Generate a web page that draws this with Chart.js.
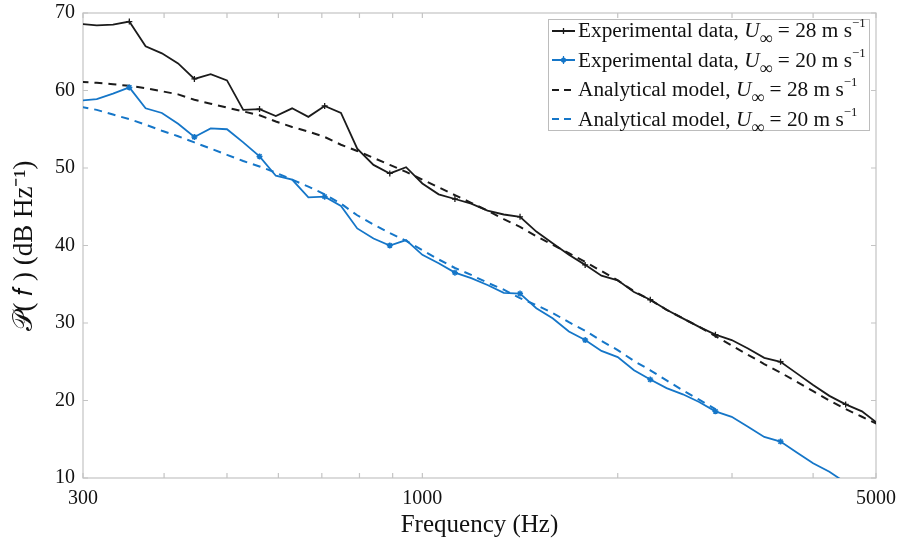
<!DOCTYPE html>
<html>
<head>
<meta charset="utf-8">
<script src="https://cdn.jsdelivr.net/npm/chart.js@4.4.1/dist/chart.umd.min.js"></script>
<style>
html,body{margin:0;padding:0;background:#fff;}
#wrap{position:relative;width:898px;height:542px;}
#c{position:absolute;left:0;top:0;}
#legend{position:absolute;left:548px;top:19px;height:112px;padding:0 3px 0 2px;border:1px solid #bcbcbc;background:#fff;box-sizing:border-box;font-family:"Liberation Serif","Times New Roman",serif;font-size:21.3px;color:#111;white-space:nowrap;}
#legend .rows{position:relative;top:-4px;}
#legend .row{height:29.5px;line-height:29.5px;display:flex;align-items:center;}
#legend svg{flex:none;margin-right:2px;}
#legend sub{font-size:0.85em;line-height:0;position:relative;top:0.05em;vertical-align:-0.35em;}
#legend sup{font-size:0.6em;line-height:0;vertical-align:0.75em;}
</style>
</head>
<body>
<div id="wrap">
<canvas id="c" width="898" height="542"></canvas>
<div id="legend"><div class="rows">
 <div class="row"><svg width="25" height="12"><line x1="1" y1="6" x2="24" y2="6" stroke="#1b1b1b" stroke-width="2"/><line x1="12.5" y1="3" x2="12.5" y2="9" stroke="#1b1b1b" stroke-width="1.3"/></svg><span>Experimental data, <i>U</i><sub>∞</sub> = 28 m s<sup>−1</sup></span></div>
 <div class="row"><svg width="25" height="12"><line x1="1" y1="6" x2="24" y2="6" stroke="#1576c8" stroke-width="2"/><circle cx="12.5" cy="6" r="2.6" fill="#1576c8"/><line x1="12.5" y1="2" x2="12.5" y2="10" stroke="#1576c8" stroke-width="1.2"/></svg><span>Experimental data, <i>U</i><sub>∞</sub> = 20 m s<sup>−1</sup></span></div>
 <div class="row"><svg width="25" height="12"><line x1="1" y1="6" x2="24" y2="6" stroke="#1b1b1b" stroke-width="2" stroke-dasharray="7 5"/></svg><span>Analytical model, <i>U</i><sub>∞</sub> = 28 m s<sup>−1</sup></span></div>
 <div class="row"><svg width="25" height="12"><line x1="1" y1="6" x2="24" y2="6" stroke="#1576c8" stroke-width="2" stroke-dasharray="7 5"/></svg><span>Analytical model, <i>U</i><sub>∞</sub> = 20 m s<sup>−1</sup></span></div>
</div></div>
</div>
<script>
// 1/12-octave band frequencies (Hz)
const frequencies = [297.3, 315.0, 333.7, 353.6, 374.6, 396.9, 420.4, 445.4, 471.9, 500.0,
  529.7, 561.2, 594.6, 630.0, 667.4, 707.1, 749.2, 793.7, 840.9, 890.9,
  943.9, 1000.0, 1059.5, 1122.5, 1189.2, 1259.9, 1334.8, 1414.2, 1498.3, 1587.4,
  1681.8, 1781.8, 1887.7, 2000.0, 2118.9, 2244.9, 2378.4, 2519.8, 2669.6, 2828.4,
  2996.6, 3174.8, 3363.6, 3563.6, 3775.5, 4000.0, 4237.9, 4489.8, 4756.8, 5039.7];

const exp28 = [68.6, 68.4, 68.5, 68.9, 65.7, 64.8, 63.5, 61.5, 62.1, 61.3,
  57.5, 57.6, 56.7, 57.7, 56.6, 58.0, 57.1, 52.5, 50.4, 49.3,
  50.1, 48.0, 46.6, 46.0, 45.4, 44.5, 44.0, 43.7, 41.8, 40.3,
  38.8, 37.5, 36.1, 35.5, 34.0, 33.0, 31.7, 30.6, 29.5, 28.5,
  27.8, 26.7, 25.5, 25.0, 23.5, 22.0, 20.6, 19.5, 18.6, 17.0];

const exp20 = [58.7, 58.9, 59.6, 60.4, 57.7, 57.1, 55.7, 54.0, 55.1, 55.0,
  53.3, 51.5, 49.0, 48.5, 46.2, 46.3, 45.1, 42.2, 40.9, 40.0,
  40.7, 38.8, 37.7, 36.5, 35.8, 34.9, 33.9, 33.8, 31.9, 30.6,
  28.9, 27.8, 26.4, 25.6, 23.9, 22.7, 21.6, 20.8, 19.8, 18.6,
  17.9, 16.6, 15.3, 14.7, 13.3, 11.9, 10.8, 9.4, null, null];

const model28 = [61.1, 61.0, 60.8, 60.6, 60.3, 59.9, 59.5, 58.8, 58.3, 57.8,
  57.3, 56.8, 56.0, 55.3, 54.7, 54.0, 53.0, 52.2, 51.3, 50.4,
  49.5, 48.5, 47.5, 46.5, 45.5, 44.5, 43.4, 42.4, 41.2, 40.1,
  39.0, 37.9, 36.7, 35.5, 34.1, 33.0, 31.7, 30.6, 29.5, 28.3,
  27.1, 25.9, 24.7, 23.6, 22.4, 21.2, 20.0, 18.9, 17.9, 16.9];

const model20 = [57.9, 57.5, 56.9, 56.3, 55.6, 54.8, 54.1, 53.3, 52.5, 51.7,
  50.9, 50.2, 49.4, 48.5, 47.6, 46.6, 45.4, 43.9, 42.7, 41.6,
  40.6, 39.4, 38.2, 37.1, 36.2, 35.2, 34.3, 33.2, 32.3, 31.3,
  30.1, 29.0, 27.7, 26.5, 25.1, 23.9, 22.6, 21.3, 20.1, 18.9,
  null, null, null, null, null, null, null, null, null, null];

const xTickValues = [300, 400, 500, 600, 700, 800, 900, 1000, 2000, 3000, 4000, 5000];
const xLabelValues = [300, 1000, 5000];
const yTickValues = [10, 20, 30, 40, 50, 60, 70];

const BLACK = '#1b1b1b';
const BLUE = '#1576c8';
const AXIS = '#c4c4c4';
const FONT = '"Liberation Serif", "Times New Roman", serif';

const toXY = arr => frequencies.map((f, i) => ({x: f, y: arr[i]}));
const markerEvery4 = ctx => (ctx.dataIndex % 4 === 3 ? 3 : 0);

const frame = {
  id: 'frame',
  beforeDatasetsDraw(chart) {
    const {ctx, chartArea: a, scales: {x, y}} = chart;
    ctx.save();
    ctx.strokeStyle = AXIS;
    ctx.lineWidth = 1.2;
    ctx.strokeRect(a.left, a.top, a.right - a.left, a.bottom - a.top);
    ctx.beginPath();
    xTickValues.forEach(v => {
      const p = x.getPixelForValue(v);
      ctx.moveTo(p, a.bottom); ctx.lineTo(p, a.bottom - 5);
      ctx.moveTo(p, a.top); ctx.lineTo(p, a.top + 5);
    });
    yTickValues.forEach(v => {
      const p = y.getPixelForValue(v);
      ctx.moveTo(a.left, p); ctx.lineTo(a.left + 5, p);
      ctx.moveTo(a.right, p); ctx.lineTo(a.right - 5, p);
    });
    ctx.stroke();
    ctx.restore();
  }
};

new Chart(document.getElementById('c'), {
  type: 'line',
  data: {
    datasets: [
      {label: 'Experimental data, U∞ = 28 m s⁻¹', data: toXY(exp28), borderColor: BLACK, backgroundColor: BLACK,
        borderWidth: 1.8, pointStyle: 'cross', pointRadius: markerEvery4, pointBorderWidth: 1.3, order: 1},
      {label: 'Experimental data, U∞ = 20 m s⁻¹', data: toXY(exp20), borderColor: BLUE, backgroundColor: BLUE,
        borderWidth: 1.8, pointStyle: 'star', pointRadius: markerEvery4, pointBorderWidth: 1.5, order: 2},
      {label: 'Analytical model, U∞ = 28 m s⁻¹', data: toXY(model28), borderColor: BLACK,
        borderWidth: 2, borderDash: [8, 6], pointRadius: 0, order: 3},
      {label: 'Analytical model, U∞ = 20 m s⁻¹', data: toXY(model20), borderColor: BLUE,
        borderWidth: 2, borderDash: [8, 6], pointRadius: 0, order: 4}
    ]
  },
  options: {
    responsive: false,
    animation: false,
    layout: {padding: {left: 0, right: 22, top: 13, bottom: 0}},
    plugins: {legend: {display: false}, tooltip: {enabled: false}},
    elements: {line: {tension: 0}},
    scales: {
      x: {
        type: 'logarithmic', min: 300, max: 5000,
        grid: {display: false, drawTicks: false},
        border: {display: false},
        afterBuildTicks: s => { s.ticks = xTickValues.map(v => ({value: v})); },
        afterFit: s => { s.height = 64; s.paddingLeft = 0; s.paddingRight = 0; },
        ticks: {
          autoSkip: false, maxRotation: 0, padding: 9, color: '#111',
          font: {family: FONT, size: 20},
          callback: v => (xLabelValues.includes(v) ? String(v) : '')
        },
        title: {display: true, text: 'Frequency (Hz)', color: '#111',
          font: {family: FONT, size: 25}, padding: {top: 0, bottom: 2}}
      },
      y: {
        min: 10, max: 70,
        grid: {display: false, drawTicks: false},
        border: {display: false},
        afterBuildTicks: s => { s.ticks = yTickValues.map(v => ({value: v})); },
        afterFit: s => { s.width = 83; s.paddingTop = 0; s.paddingBottom = 0; },
        ticks: {padding: 8, color: '#111', font: {family: FONT, size: 20}},
        title: {display: true, text: '𝒫( 𝑓 ) (dB Hz⁻¹)', color: '#111',
          font: {family: FONT, size: 27}, padding: {top: 9, bottom: 0}}
      }
    }
  },
  plugins: [frame]
});
</script>
</body>
</html>
